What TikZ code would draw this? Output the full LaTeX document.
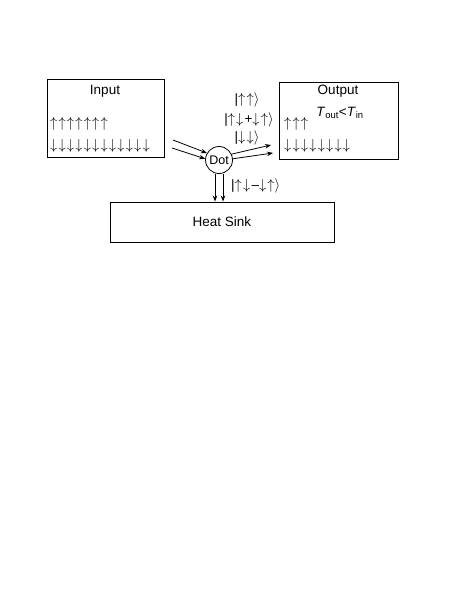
\documentclass[tikz,border=0pt]{standalone}
\usepackage{fontspec}
\setmainfont{Liberation Sans}
\usetikzlibrary{arrows.meta}
\newcommand{\su}{$\uparrow$\kern1.2pt}
\newcommand{\sd}{$\downarrow$\kern1.2pt}
\begin{document}
\begin{tikzpicture}[x=1pt, y=-1pt, >={Stealth[length=6pt, width=4.5pt]},
  font=\fontsize{13.5}{16}\selectfont,
  box/.style={draw, line width=0.9pt, inner sep=0pt},
  spins/.style={anchor=west, inner sep=0pt},
  flow/.style={->, line width=0.8pt}]
  \useasboundingbox (0,0) rectangle (463,602);

  % boxes
  \node[box, minimum width=117pt, minimum height=78pt] (input) at (105.5,118) {};
  \node[box, minimum width=119pt, minimum height=77pt] (output) at (338.5,120.5) {};
  \node[box, minimum width=224pt, minimum height=40pt] (sink) at (222,222) {Heat Sink};
  \node[draw, circle, line width=0.8pt, minimum size=27pt, inner sep=0pt,
        font=\fontsize{12.5}{14}\selectfont] (dot) at (219,160) {Dot};

  % box contents
  \node (inlabel) at (105,91) {Input};
  \node[spins] (inup) at (50,124) {\su\su\su\su\su\su\su};
  \node[spins] (indown) at (50,146) {\sd\sd\sd\sd\sd\sd\sd\sd\sd\sd\sd\sd};
  \node (outlabel) at (338,91) {Output};
  \node (temp) at (340,113) {\textit{T}\textsubscript{out}<\textit{T}\textsubscript{in}};
  \node[spins] (outup) at (284,124) {\su\su\su};
  \node[spins] (outdown) at (284,146) {\sd\sd\sd\sd\sd\sd\sd\sd};

  % pair states
  \node (ketuu) at (247,100) {|\su$\uparrow\rangle$};
  \node (kettrip) at (249,120) {|\su\sd+\sd$\uparrow\rangle$};
  \node (ketdd) at (247,138) {|\sd$\downarrow\rangle$};
  \node[spins] (ketsing) at (231,186) {|\su\sd--\sd$\uparrow\rangle$};

  % flows
  \coordinate (in1) at (173,140);
  \coordinate (in2) at (172,148);
  \coordinate (out1) at (271,145);
  \coordinate (out2) at (273,153);
  \draw[flow] (in1) -- (dot.150);
  \draw[flow] (in2) -- (dot.175);
  \draw[flow] (dot.25) -- (out1);
  \draw[flow] (dot.5) -- (out2);
  \draw[flow] ([xshift=-4pt]dot.south) -- ([xshift=-7pt]sink.north);
  \draw[flow] ([xshift=4pt]dot.south) -- ([xshift=1pt]sink.north);
\end{tikzpicture}
\end{document}
